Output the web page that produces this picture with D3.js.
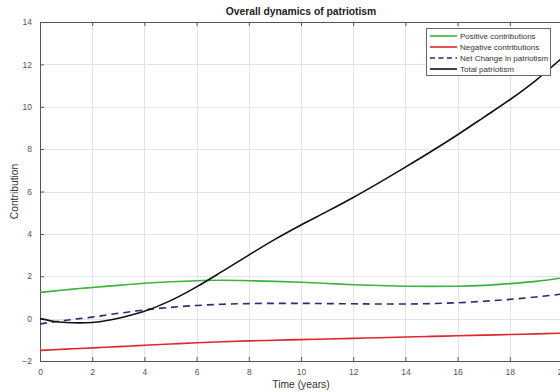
<!DOCTYPE html>
<html>
<head>
<meta charset="utf-8">
<script src="https://cdn.jsdelivr.net/npm/d3@7"></script>
<style>
  html, body { margin: 0; padding: 0; background: #fff; overflow: hidden; }
  svg { display: block; font-family: "Liberation Sans", Arial, sans-serif; }
</style>
</head>
<body>
<svg id="chart" width="560" height="392"></svg>
<script>
// Time axis samples (years)
const years = [0, 0.5, 1, 1.5, 2, 2.5, 3, 3.5, 4, 5, 6, 7, 8, 9, 10, 11, 12, 13, 14, 15, 16, 17, 18, 19, 20];

// Series values at each sample
const positive = [1.24, 1.30, 1.36, 1.42, 1.47, 1.52, 1.57, 1.62, 1.67, 1.74, 1.79, 1.81, 1.79, 1.76, 1.72, 1.66, 1.60, 1.56, 1.53, 1.52, 1.53, 1.57, 1.65, 1.76, 1.92];
const negative = [-1.50, -1.47, -1.44, -1.41, -1.38, -1.35, -1.32, -1.29, -1.26, -1.20, -1.14, -1.09, -1.05, -1.02, -0.99, -0.96, -0.93, -0.90, -0.87, -0.84, -0.81, -0.78, -0.75, -0.72, -0.69];
const netChange = [-0.25, -0.16, -0.08, 0.00, 0.07, 0.16, 0.25, 0.33, 0.41, 0.53, 0.62, 0.68, 0.71, 0.72, 0.72, 0.71, 0.70, 0.69, 0.69, 0.71, 0.75, 0.82, 0.91, 1.02, 1.16];
const total = [0.00, -0.12, -0.18, -0.20, -0.18, -0.10, 0.02, 0.17, 0.35, 0.85, 1.50, 2.24, 3.00, 3.74, 4.42, 5.06, 5.72, 6.42, 7.15, 7.90, 8.68, 9.50, 10.33, 11.25, 12.30];

// Tick labels
const xTicks = [0, 2, 4, 6, 8, 10, 12, 14, 16, 18, 20];
const yTicks = [-2, 0, 2, 4, 6, 8, 10, 12, 14];

const seriesNames = ["Positive contributions", "Negative contributions", "Net Change in patriotism", "Total patriotism"];
const seriesColors = ["#3cb43c", "#e0262b", "#2a2a78", "#111111"];
const seriesDash = [null, null, "7,5", null];
const seriesValues = [positive, negative, netChange, total];

const svg = d3.select("#chart");
const plot = { left: 40, top: 22, right: 562, bottom: 361 };

const x = d3.scaleLinear().domain([0, 20]).range([plot.left, plot.right]);
const y = d3.scaleLinear().domain([-2, 14]).range([plot.bottom, plot.top]);

// Grid
const grid = svg.append("g").attr("stroke", "#e3e3e3").attr("stroke-width", 1);
grid.selectAll(".gx").data(xTicks).join("line")
  .attr("x1", d => Math.round(x(d)) + 0.5).attr("x2", d => Math.round(x(d)) + 0.5)
  .attr("y1", plot.top).attr("y2", plot.bottom);
grid.selectAll(".gy").data(yTicks).join("line")
  .attr("y1", d => Math.round(y(d)) + 0.5).attr("y2", d => Math.round(y(d)) + 0.5)
  .attr("x1", plot.left).attr("x2", plot.right);

// Axes (ticks point inward)
const axisColor = "#555";
const bottomAxis = svg.append("g").attr("transform", `translate(0,${plot.bottom})`)
  .call(d3.axisBottom(x).tickValues(xTicks).tickSizeInner(-4).tickSizeOuter(0).tickPadding(8));
const leftAxis = svg.append("g").attr("transform", `translate(${plot.left},0)`)
  .call(d3.axisLeft(y).tickValues(yTicks).tickSizeInner(-4).tickSizeOuter(0).tickPadding(8));
const topAxis = svg.append("g").attr("transform", `translate(0,${plot.top})`)
  .call(d3.axisTop(x).tickValues(xTicks).tickSizeInner(-4).tickSizeOuter(0).tickFormat(""));
[bottomAxis, leftAxis, topAxis].forEach(g => {
  g.select(".domain").attr("stroke", axisColor);
  g.selectAll(".tick line").attr("stroke", axisColor);
  g.selectAll(".tick text").attr("fill", "#555").attr("font-size", 8.5)
    .attr("font-family", "Liberation Sans, Arial, sans-serif");
});

// Series lines
const line = d3.line()
  .x((d, i) => x(years[i]))
  .y(d => y(d))
  .curve(d3.curveMonotoneX);

seriesValues.forEach((vals, k) => {
  svg.append("path")
    .datum(vals)
    .attr("fill", "none")
    .attr("stroke", seriesColors[k])
    .attr("stroke-width", 1.6)
    .attr("stroke-dasharray", seriesDash[k])
    .attr("d", line);
});

// Title and axis labels
svg.append("text").attr("x", (plot.left + plot.right) / 2).attr("y", 15)
  .attr("text-anchor", "middle").attr("font-size", 10.3).attr("font-weight", "bold")
  .attr("fill", "#222").text("Overall dynamics of patriotism");
svg.append("text").attr("x", (plot.left + plot.right) / 2).attr("y", 388)
  .attr("text-anchor", "middle").attr("font-size", 10.3).attr("fill", "#333")
  .text("Time (years)");
svg.append("text").attr("transform", `translate(18,${(plot.top + plot.bottom) / 2}) rotate(-90)`)
  .attr("text-anchor", "middle").attr("font-size", 10.3).attr("fill", "#333")
  .text("Contribution");

// Legend
const legend = svg.append("g").attr("transform", "translate(426,28)");
legend.append("rect").attr("x", 0.5).attr("y", 0.5).attr("width", 124).attr("height", 47)
  .attr("fill", "#fff").attr("stroke", "#666").attr("stroke-width", 1);
seriesNames.forEach((name, k) => {
  const ly = 8 + k * 11;
  legend.append("line").attr("x1", 4).attr("x2", 31).attr("y1", ly).attr("y2", ly)
    .attr("stroke", seriesColors[k]).attr("stroke-width", 1.6)
    .attr("stroke-dasharray", seriesDash[k] ? "5,3.5" : null);
  legend.append("text").attr("x", 34).attr("y", ly + 3).attr("font-size", 8)
    .attr("fill", "#333").attr("textLength", null).text(name);
});
</script>
</body>
</html>
